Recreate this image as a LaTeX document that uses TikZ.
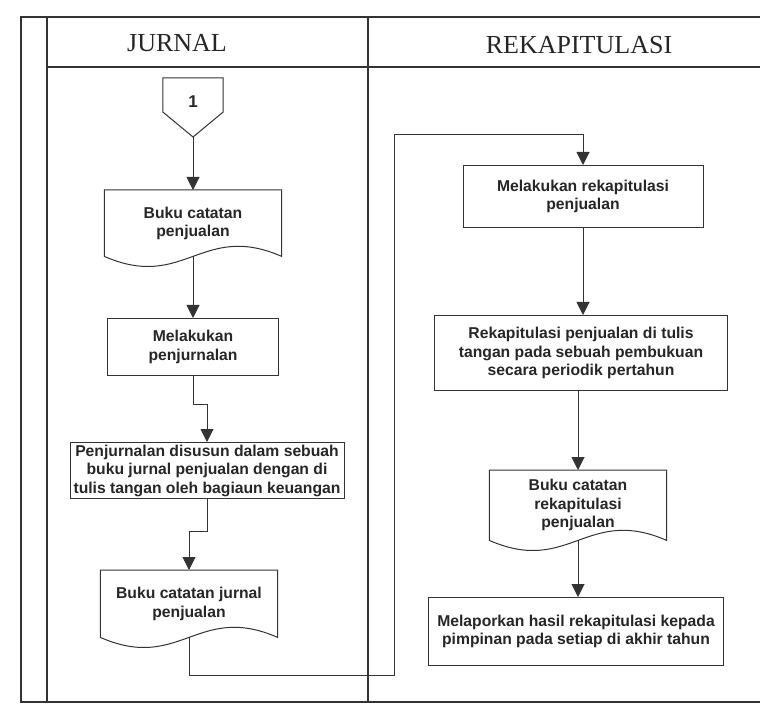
\documentclass[tikz,border=0pt]{standalone}
\usepackage{fontspec}
\setmainfont{Liberation Serif}
\newfontfamily\bodyfont{Liberation Sans}
\usetikzlibrary{arrows.meta,calc}
\begin{document}
\begin{tikzpicture}[x=1pt,y=-1pt,
  frameline/.style={line width=2.4pt, draw=black!80},
  shapeline/.style={line width=1pt, draw=black!80},
  txt/.style={align=center, text=black!85, inner sep=0pt,
    font=\bodyfont\bfseries\fontsize{15.7}{18.5}\selectfont},
  procbox/.style={txt, draw=black!80, line width=1pt, rectangle, anchor=north},
  docnode/.style={txt, rectangle, anchor=north, minimum width=177pt},
  flow/.style={line width=1pt, draw=black!80, -{Triangle[width=13pt,length=13pt]}},
  hdr/.style={font=\fontsize{26}{30}\selectfont, text=black!85}
]
\useasboundingbox (0,0) rectangle (760,708);
\fill[white] (0,0) rectangle (760,708);

% frame
\draw[frameline] (760,17) -- (21,17) -- (21,702) -- (760,702);
\draw[frameline] (47,17) -- (47,702);
\draw[frameline] (47,67) -- (760,67);
\draw[frameline] (368,17) -- (368,702);

\node[hdr] (h1) at (177,43) {JURNAL};
\node[hdr] (h2) at (579,45) {REKAPITULASI};

% left lane
\node[txt, minimum width=60pt, minimum height=46pt, anchor=north,
      font=\bodyfont\bfseries\fontsize{17}{20}\selectfont] (off) at (193,78) {1};
\coordinate (offtip) at (193,137);
\draw[shapeline] (off.north west) -- (off.north east) -- ([yshift=-34pt]off.north east)
  -- (offtip) -- ([yshift=-34pt]off.north west) -- cycle;

\node[docnode, minimum height=66pt] (doc1) at (193,190) {Buku catatan\\penjualan};
\node[procbox, minimum width=171pt, minimum height=57pt] (box1) at (193,318) {Melakukan\\penjurnalan};
\node[procbox, minimum width=274pt, minimum height=56pt] (box2) at (207,442)
  {Penjurnalan disusun dalam sebuah\\buku jurnal penjualan dengan di\\tulis tangan oleh bagiaun keuangan};
\node[docnode, minimum height=67pt] (doc2) at (189,570) {Buku catatan jurnal\\penjualan};

% right lane
\node[procbox, minimum width=240pt, minimum height=62pt] (box3) at (583,165) {Melakukan rekapitulasi\\penjualan};
\node[procbox, minimum width=293pt, minimum height=75pt] (box4) at (581,315)
  {Rekapitulasi penjualan di tulis\\tangan pada sebuah pembukuan\\secara periodik pertahun};
\node[docnode, minimum height=70pt] (doc3) at (578,470) {Buku catatan\\rekapitulasi\\penjualan};
\node[procbox, minimum width=295pt, minimum height=68pt] (box5) at (576,597)
  {Melaporkan hasil rekapitulasi kepada\\pimpinan pada setiap di akhir tahun};

% document outlines
\foreach \d in {doc1,doc2,doc3}{
  \draw[shapeline] (\d.north west) -- (\d.north east) -- (\d.south east)
    .. controls +(-80,-35) and +(80,35) .. (\d.south west) -- cycle;
}

% connectors
\coordinate (c1) at (394,675);
\coordinate (c2) at (394,135);
\draw[flow] (offtip) -- (doc1.north);
\draw[flow] (doc1.south) -- (box1.north);
\draw[flow] (box1.south) -- ++(0,28) -| (box2.north);
\draw[flow] (box2.south) -- ++(0,32) -| (doc2.north);
\draw[flow] (doc2.south) |- (c1) -- (c2) -| (box3.north);
\draw[flow] (box3.south) -- (box3.south |- box4.north);
\draw[flow] (box4.south -| doc3.north) -- (doc3.north);
\draw[flow] (doc3.south) -- (doc3.south |- box5.north);
\end{tikzpicture}
\end{document}
